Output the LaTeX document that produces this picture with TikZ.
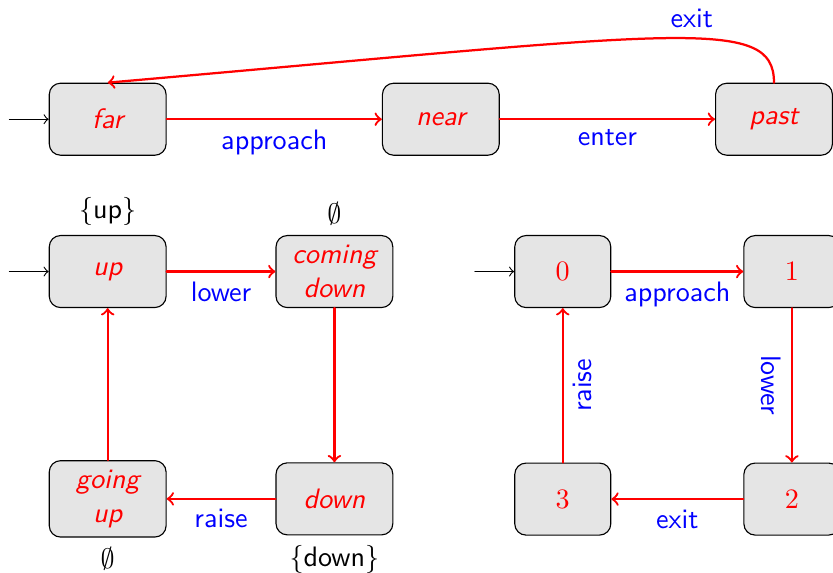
\documentclass[tikz,border=0pt]{standalone}
\usepackage{amsmath}
\usetikzlibrary{arrows.meta,positioning}
\renewcommand{\familydefault}{\sfdefault}

\begin{document}
\begin{tikzpicture}[>=to, node distance=1.9cm and 2.69cm,
                    line cap=round, line join=round,
                    stbox/.style={draw, rounded corners, fill=black!10, text=red,
                                  minimum width=1.46cm, minimum height=0.9cm,
                                  align=center, font=\itshape},
                    numbox/.style={stbox, minimum width=1.2cm, font=\normalfont},
                    trans/.style={->, red, thick},
                    lab/.style={text=blue}]

\useasboundingbox (-1.346,-5.66) rectangle (9.066,1.49);

% Nodes
\node[stbox] (far) {far};
\node[stbox, right=of far] (near) {near};
\node[stbox, right=of near] (past) {past};

\node[stbox, below=0.99cm of far, label=above:{$\{\text{up}\}$}] (up) {up};
\node[stbox, right=1.36cm of up, label=above:{$\emptyset$}] (cdown) {coming\\down};
\node[stbox, below=1.9cm of up, label=below:{$\emptyset$}] (gup) {going\\up};
\node[stbox, right=1.36cm of gup, label=below:{$\{\text{down}\}$}] (down) {down};

\node[numbox, right=1.51cm of cdown] (s0) {$0$};
\node[numbox, right=1.65cm of s0] (s1) {$1$};
\node[numbox, below=1.93cm of s1] (s2) {$2$};
\node[numbox, below=1.93cm of s0] (s3) {$3$};

% Initial arrows
\coordinate[left=0.49cm of far] (farin);
\coordinate[left=0.49cm of up] (upin);
\coordinate[left=0.49cm of s0] (s0in);
\draw[->] (farin) -- (far);
\draw[->] (upin) -- (up);
\draw[->] (s0in) -- (s0);

% Connections
\draw[trans] (far) -- node[lab, below] {approach} (near);
\draw[trans] (near) -- node[lab, below] {enter} (past);
\draw[trans] (past.north) .. controls +(0,0.85) and +(5:7.2) ..
    node[lab, above, pos=0.43] {exit} (far.north);

\draw[trans] (up) -- node[lab, below] {lower} (cdown);
\draw[trans] (cdown) -- (down);
\draw[trans] (down) -- node[lab, below] {raise} (gup);
\draw[trans] (gup) -- (up);

\draw[trans] (s0) -- node[lab, below] {approach} (s1);
\draw[trans] (s1) -- node[lab, rotate=-90, anchor=north] {lower} (s2);
\draw[trans] (s2) -- node[lab, below] {exit} (s3);
\draw[trans] (s3) -- node[lab, rotate=90, anchor=north] {raise} (s0);

\end{tikzpicture}
\end{document}
